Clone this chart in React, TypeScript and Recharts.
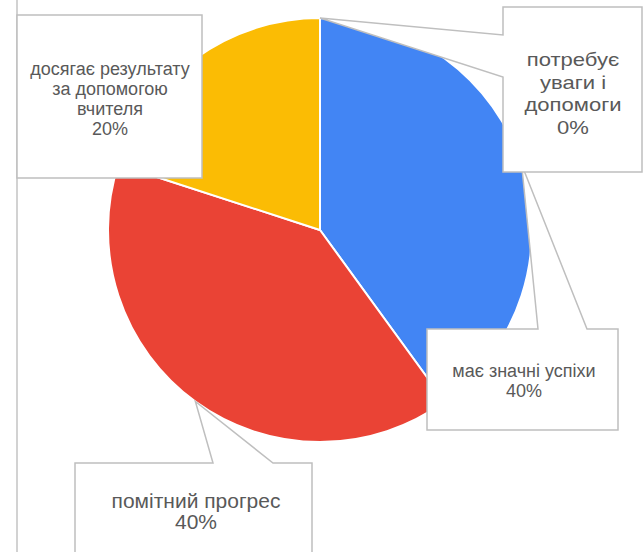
import { Cell, Pie, PieChart } from "recharts";

// Pie slices, clockwise from 12 o'clock
const categories = [
  "має значні успіхи",
  "помітний прогрес",
  "досягає результату за допомогою вчителя",
  "потребує уваги і допомоги",
];
const values = [40, 40, 20, 0];
const colors = ["#4285F4", "#EA4335", "#FBBC04", "#A0A0A0"];

// How each category label is wrapped inside its callout box
const labelLines = [
  ["має значні успіхи"],
  ["помітний прогрес"],
  ["досягає результату", "за допомогою", "вчителя"],
  ["потребує", "уваги і", "допомоги"],
];

type Side = "top" | "left" | "none";

interface Callout {
  x0: number;
  y0: number;
  x1: number;
  y1: number;
  side: Side;
  // where the pointer meets the box edge
  n0: number;
  n1: number;
  textX: number;
  baseline: number;
  step: number;
  fontSize: number;
  // the source text is drawn a little wider than Arial
  stretch: number;
}

// Box placement for each callout (layout only, same order as the data)
const callouts: Callout[] = [
  { x0: 427, y0: 329, x1: 618, y1: 430, side: "top", n0: 538, n1: 587, textX: 524, baseline: 377, step: 20, fontSize: 18, stretch: 1 },
  { x0: 75, y0: 463, x1: 312, y1: 580, side: "top", n0: 213, n1: 273, textX: 196, baseline: 508, step: 21, fontSize: 20, stretch: 1.05 },
  { x0: 17, y0: 15, x1: 202, y1: 178, side: "none", n0: 0, n1: 0, textX: 110, baseline: 75, step: 20, fontSize: 18, stretch: 1 },
  { x0: 503, y0: 7, x1: 642, y1: 172, side: "left", n0: 35, n1: 77, textX: 573, baseline: 66, step: 22.7, fontSize: 19, stretch: 1.16 },
];

const data = categories.map((name, i) => ({ name, value: values[i] }));

const RAD = Math.PI / 180;

function calloutPath(c: Callout, tx: number, ty: number) {
  const { x0, y0, x1, y1 } = c;
  if (c.side === "top") {
    return `M${x0},${y0} L${c.n0},${y0} L${tx},${ty} L${c.n1},${y0} L${x1},${y0} L${x1},${y1} L${x0},${y1} Z`;
  }
  if (c.side === "left") {
    return `M${x0},${y0} L${x1},${y0} L${x1},${y1} L${x0},${y1} L${x0},${c.n1} L${tx},${ty} L${x0},${c.n0} Z`;
  }
  return `M${x0},${y0} L${x1},${y0} L${x1},${y1} L${x0},${y1} Z`;
}

function renderCallout(props: any) {
  const { cx, cy, midAngle, outerRadius, index, percent } = props;
  const c = callouts[index];
  if (!c) return null;
  const tx = cx + outerRadius * Math.cos(-midAngle * RAD);
  const ty = cy + outerRadius * Math.sin(-midAngle * RAD);
  const lines = [...labelLines[index], `${Math.round(percent * 100)}%`];
  return (
    <g key={`callout-${index}`}>
      <path
        d={calloutPath(c, tx, ty)}
        fill="#ffffff"
        stroke="#bfbfbf"
        strokeWidth={1.5}
        strokeLinejoin="miter"
      />
      <g transform={`translate(${c.textX},0) scale(${c.stretch},1)`}>
        {lines.map((line, i) => (
          <text
            key={i}
            x={0}
            y={c.baseline + i * c.step}
            textAnchor="middle"
            fill="#595959"
            fontSize={c.fontSize}
            fontFamily="Arial, 'Liberation Sans', sans-serif"
          >
            {line}
          </text>
        ))}
      </g>
    </g>
  );
}

export default function App() {
  return (
    <div
      style={{
        position: "absolute",
        left: 0,
        top: 0,
        width: 643,
        height: 552,
        background: "#ffffff",
        overflow: "hidden",
      }}
    >
      <div
        style={{
          position: "absolute",
          left: 16,
          top: 0,
          width: 0,
          height: 552,
          borderLeft: "2px solid #d2d2d2",
        }}
      />
      <PieChart
        width={643}
        height={552}
        margin={{ top: 0, right: 0, bottom: 0, left: 0 }}
        style={{ position: "absolute", left: 0, top: 0 }}
      >
        <Pie
          data={data}
          dataKey="value"
          nameKey="name"
          cx={320}
          cy={230}
          outerRadius={212}
          startAngle={90}
          endAngle={-270}
          stroke="#ffffff"
          strokeWidth={2}
          label={renderCallout}
          labelLine={false}
          isAnimationActive={false}
        >
          {data.map((d, i) => (
            <Cell key={d.name} fill={colors[i]} />
          ))}
        </Pie>
      </PieChart>
    </div>
  );
}
